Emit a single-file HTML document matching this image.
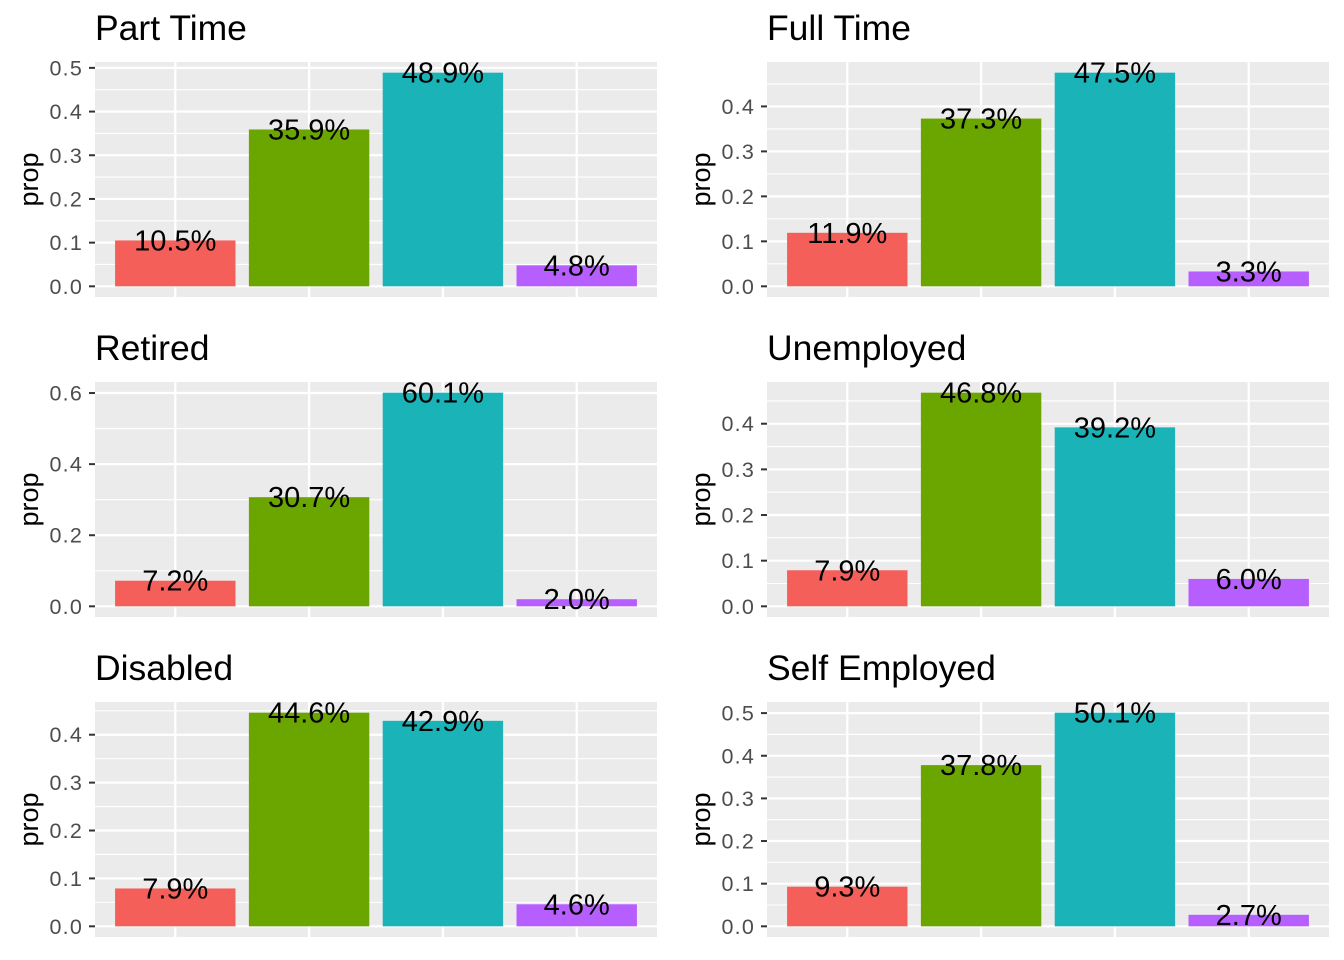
<!DOCTYPE html>
<html><head><meta charset="utf-8"><style>
body{margin:0;background:#fff}
svg{display:block;font-family:"Liberation Sans",Arial,sans-serif}
</style></head><body>
<svg id="c" width="1344" height="960"></svg>
<script>
const panelTitles=["Part Time","Full Time","Retired","Unemployed","Disabled","Self Employed"];
const categories=["a","b","c","d"];
const partTime=[0.105,0.359,0.489,0.048];
const fullTime=[0.119,0.373,0.475,0.033];
const retired=[0.072,0.307,0.601,0.020];
const unemployed=[0.079,0.468,0.392,0.060];
const disabled=[0.079,0.446,0.429,0.046];
const selfEmployed=[0.093,0.378,0.501,0.027];
const panelValues=[partTime,fullTime,retired,unemployed,disabled,selfEmployed];
const panelTicks=[[0,0.1,0.2,0.3,0.4,0.5],[0,0.1,0.2,0.3,0.4],[0,0.2,0.4,0.6],[0,0.1,0.2,0.3,0.4],[0,0.1,0.2,0.3,0.4],[0,0.1,0.2,0.3,0.4,0.5]];
const colors=["#F45F5A","#6AA500","#19B3B8","#B75EFF"];
const NS="http://www.w3.org/2000/svg";
const svg=document.getElementById("c");
function mk(tag,attrs,parent){const e=document.createElementNS(NS,tag);for(const k in attrs)e.setAttribute(k,attrs[k]);(parent||svg).appendChild(e);return e;}
panelValues.forEach((vals,p)=>{
  const col=p%2,row=Math.floor(p/2);
  const X0=col?767:95,W=562,Y0=62+row*320,H=235;
  const g=mk("g",{});
  
  
  const mx=Math.max(...vals);
  const lo=-0.05*mx,hi=mx*1.05;
  const y=v=>Y0+H-(v-lo)/(hi-lo)*H;
  const x=i=>X0+(i+1-0.4)/4.2*W;
  const bg=mk("rect",{x:X0,y:Y0,width:W,height:H,fill:"#EBEBEB"},g);
  
  
  const ticks=panelTicks[p];
  const step=ticks[1]-ticks[0];
  for(let t=ticks[0]-step/2;t<=hi;t+=step){
    if(t<lo) continue;
    const ln=mk("line",{x1:X0,x2:X0+W,y1:y(t),y2:y(t),stroke:"#fff","stroke-width":1.1},g);
    
    
  }
  ticks.forEach(t=>{
    const ln=mk("line",{x1:X0,x2:X0+W,y1:y(t),y2:y(t),stroke:"#fff","stroke-width":2.2},g);
    
    
    const tk=mk("line",{x1:X0-6,x2:X0,y1:y(t),y2:y(t),stroke:"#333","stroke-width":2},g);
    
    
    const tl=mk("text",{x:X0-12,y:y(t)+7.5,"text-anchor":"end","font-size":21.5,"letter-spacing":1.2,fill:"#4D4D4D"},g);
    tl.textContent=t.toFixed(1);
    
    
  });
  categories.forEach((c,i)=>{
    const ln=mk("line",{x1:x(i),x2:x(i),y1:Y0,y2:Y0+H,stroke:"#fff","stroke-width":2.2},g);
    
    
  });
  vals.forEach((v,i)=>{
    const bw=0.9/4.2*W;
    const b=mk("rect",{x:x(i)-bw/2,y:y(v),width:bw,height:y(0)-y(v),fill:colors[i]},g);
    
    
    const lb=mk("text",{x:x(i),y:y(v)+10,"text-anchor":"middle","font-size":29,fill:"#000"},g);
    lb.textContent=(v*100).toFixed(1)+"%";
    
    
  });
  const tt=mk("text",{x:X0,y:Y0-22,"font-size":35.5,fill:"#000"},g);
  tt.textContent=panelTitles[p];
  
  
  const ya=mk("text",{x:0,y:0,"font-size":27,fill:"#000","text-anchor":"middle",transform:`translate(${X0-57},${Y0+H/2}) rotate(-90)`},g);
  ya.textContent="prop";
  
  
});
</script>
</body></html>
